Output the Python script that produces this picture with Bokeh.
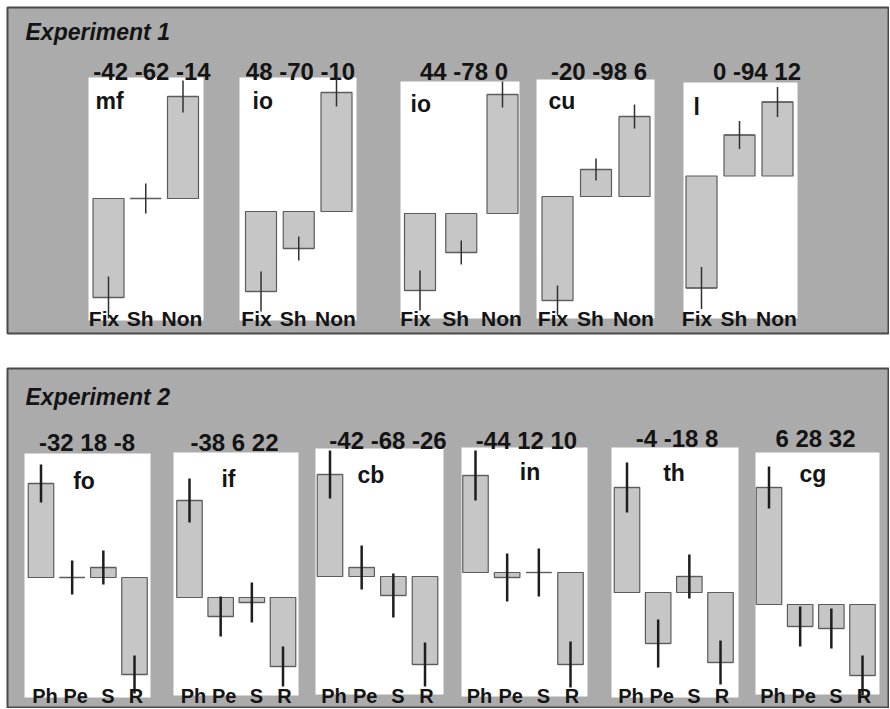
from bokeh.plotting import figure
from bokeh.models import Range1d
from bokeh.embed import file_html
from bokeh.resources import INLINE
from bokeh.core.properties import value

# ---------------- DATA ----------------
exp1_title = "Experiment 1"
exp1_cats = ["Fix", "Sh", "Non"]
exp1_names = ["mf", "io", "io", "cu", "l"]
exp1_numbers = [[-42, -62, -14], [48, -70, -10], [44, -78, 0], [-20, -98, 6], [0, -94, 12]]
exp1_means = [[-49.5, 0, 51], [-40, -18.5, 59.5], [-38.5, -19.5, 59.5],
              [-52, 13.5, 40], [-56, 20.5, 37]]
exp1_errs = [[10.5, 7.5, 8], [10, 6, 7], [10, 6, 6.5], [7.5, 5.5, 6], [10.5, 7, 7.5]]

exp2_title = "Experiment 2"
exp2_cats = ["Ph", "Pe", "S", "R"]
exp2_names = ["fo", "if", "cb", "in", "th", "cg"]
exp2_numbers = [[-32, 18, -8], [-38, 6, 22], [-42, -68, -26], [-44, 12, 10],
                [-4, -18, 8], [6, 28, 32]]
exp2_means = [[47, 0, 5, -48.5], [48.5, -9.5, -2.5, -34.5], [51, 4.5, -9.5, -44],
              [48.5, -2.5, 0, -46], [52.5, -25.5, 8, -35], [58.5, -11, -12, -35.5]]
exp2_errs = [[9.5, 8.5, 8.5, 9.5], [11, 10, 10, 10], [12, 11, 11, 11],
             [12.5, 12, 12, 11.5], [12.5, 12, 11, 11], [10.5, 10, 10, 10]]

# ---------------- LAYOUT (page pixels of the original figure) ----------------
X0, X1, Y0, Y1 = 0, 889, 0, 708
W, H = 889, 708
UNIT = 2.0  # pixels per data unit

FONT = "Liberation Sans"
BOX_FILL = "#ababab"
BOX_LINE = "#4a4a4a"
BAR_FILL = "#c6c6c6"
BAR_LINE = "#5c5c5c"
TXT = "#141414"

boxes = [(7, 7, 888, 333), (7, 368, 888, 707)]
title_pos = [(25, 31), (25, 396)]

exp1 = dict(
    panels=[(88, 77, 203, 320), (239, 77, 356, 320), (400, 81, 519, 318),
            (536, 79, 654, 318), (683, 82, 797, 318)],
    first=[108, 260.5, 419.5, 557, 701],
    pitch=[37.25, 37.75, 41.25, 38.5, 38],
    base=[198, 211, 213, 196, 175.5],
    bar_w=31,
    num_pos=[(151.5, 71), (300, 71), (463.5, 71), (598.5, 71), (756.5, 71)],
    name_pos=[(95, 100), (252, 100), (410, 103), (548, 100), (693, 106)],
    name_align="left",
    cat_y=318, cat_dx=[-4.5, -5.5, -1], cat_size="21px",
    err_w=1.5, err_c="#303030",
)
exp2 = dict(
    panels=[(24, 453, 150, 697), (173, 452, 298, 695), (315, 448, 443, 694),
            (461, 447, 587, 696), (611, 447, 738, 697), (755, 452, 879, 694)],
    first=[40.5, 189, 329.5, 475, 626.5, 768.5],
    pitch=[31.17, 31.17, 31.67, 31.67, 31.17, 31.17],
    base=[577, 597, 576, 572, 592, 604],
    bar_w=25.5,
    num_pos=[(86.5, 442), (234, 442), (387.5, 440), (526, 440), (676.5, 438), (815, 438)],
    name_pos=[(83.5, 480), (228, 478), (370.5, 474), (529.5, 471), (673.5, 472), (812.5, 473)],
    name_align="center",
    cat_y=695, cat_dx=[4, 3.5, 4.5, 1.5], cat_size="20px",
    err_w=2.5, err_c="#1e1e1e",
)

p = figure(width=W, height=H, x_range=Range1d(X0, X1), y_range=Range1d(Y1, Y0),
           output_backend="svg", toolbar_location=None, min_border=0,
           x_axis_location=None, y_axis_location=None)
p.grid.visible = False
p.outline_line_color = None
p.background_fill_color = "white"
p.border_fill_color = "white"

# grey boxes
p.quad(left=[b[0] for b in boxes], right=[b[2] for b in boxes],
       top=[b[1] for b in boxes], bottom=[b[3] for b in boxes],
       fill_color=BOX_FILL, line_color=BOX_LINE, line_width=2)

for (tx, ty), t in zip(title_pos, [exp1_title, exp2_title]):
    p.text(x=[tx], y=[ty], text=[t], text_font=value(FONT), text_font_size="23px",
           text_font_style="bold italic", text_color=TXT, text_baseline="alphabetic",
           text_align="left")

xr, yr = {}, {}

def draw(exp, cats, names, numbers, means, errs, tag):
    pb = exp["panels"]
    p.quad(left=[b[0] for b in pb], right=[b[2] for b in pb],
           top=[b[1] for b in pb], bottom=[b[3] for b in pb],
           fill_color="white", line_color=None)
    # numbers above panels
    p.text(x=[q[0] for q in exp["num_pos"]], y=[q[1] for q in exp["num_pos"]],
           text=[" ".join(str(n) for n in nums) for nums in numbers],
           text_font=value(FONT), text_font_size="24px", text_font_style="bold",
           text_color=TXT, text_align="center", text_baseline="alphabetic")
    # panel names
    p.text(x=[q[0] for q in exp["name_pos"]], y=[q[1] for q in exp["name_pos"]],
           text=names, text_font=value(FONT), text_font_size="23px",
           text_font_style="bold", text_color=TXT, text_align=exp["name_align"],
           text_baseline="alphabetic")
    n = len(cats)
    idx = list(range(n))
    for k in range(len(names)):
        key = f"{tag}{k}"
        f, pt, b = exp["first"][k], exp["pitch"][k], exp["base"][k]
        xr[key] = Range1d((X0 - f) / pt, (X1 - f) / pt)
        yr[key] = Range1d((b - Y1) / UNIT, (b - Y0) / UNIT)
        w = exp["bar_w"] / pt
        m = means[k]
        e = errs[k]
        p.vbar(x=idx, width=w, bottom=0, top=m, fill_color=BAR_FILL,
               line_color=BAR_LINE, line_width=1.2, x_range_name=key, y_range_name=key)
        p.segment(x0=[i - w / 2 for i in idx], x1=[i + w / 2 for i in idx], y0=m, y1=m,
                  line_color=BAR_LINE, line_width=1.4, x_range_name=key, y_range_name=key)
        p.segment(x0=idx, x1=idx, y0=[a - c for a, c in zip(m, e)],
                  y1=[a + c for a, c in zip(m, e)], line_color=exp["err_c"],
                  line_width=exp["err_w"], x_range_name=key, y_range_name=key)
        p.text(x=[i + d / pt for i, d in zip(idx, exp["cat_dx"])], y=[exp["cat_y"]] * n,
               text=cats, text_font=value(FONT), text_font_size=exp["cat_size"],
               text_font_style="bold", text_color=TXT, text_align="center",
               text_baseline="alphabetic", x_range_name=key)

draw(exp1, exp1_cats, exp1_names, exp1_numbers, exp1_means, exp1_errs, "a")
draw(exp2, exp2_cats, exp2_names, exp2_numbers, exp2_means, exp2_errs, "b")

p.extra_x_ranges = xr
p.extra_y_ranges = yr

open("out.html", "w").write(file_html(p, INLINE))
